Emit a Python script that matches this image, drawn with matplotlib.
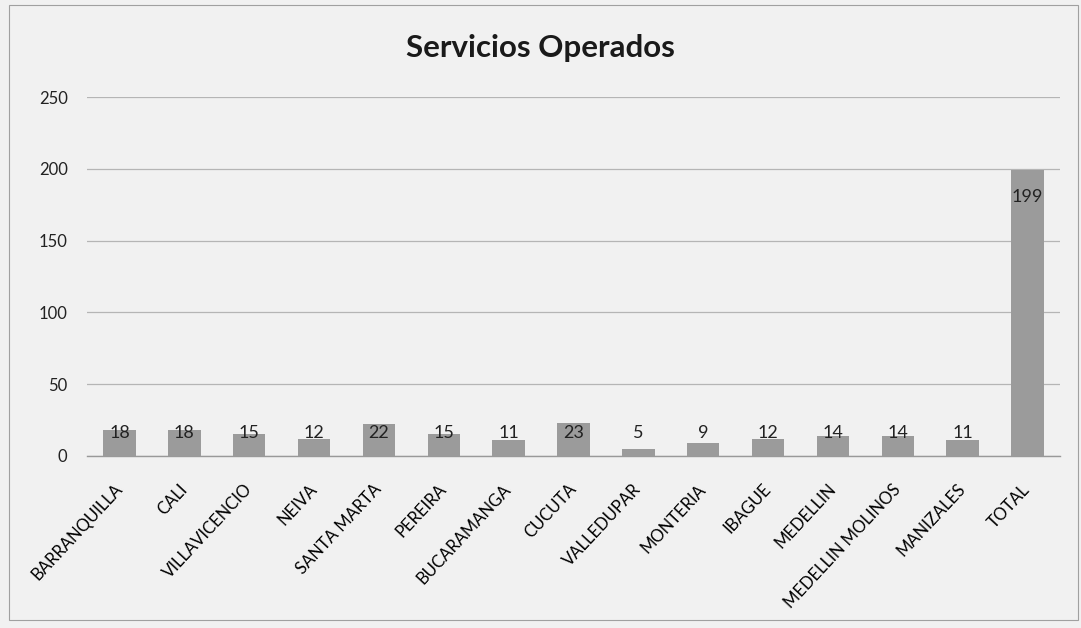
import matplotlib.pyplot as plt
from matplotlib.patches import Rectangle

# ---------- data ----------
ciudades = ["BARRANQUILLA", "CALI", "VILLAVICENCIO", "NEIVA", "SANTA MARTA",
            "PEREIRA", "BUCARAMANGA", "CUCUTA", "VALLEDUPAR", "MONTERIA",
            "IBAGUE", "MEDELLIN", "MEDELLIN MOLINOS", "MANIZALES", "TOTAL"]
servicios = [18, 18, 15, 12, 22, 15, 11, 23, 5, 9, 12, 14, 14, 11, 199]
y_ticks = [0, 50, 100, 150, 200, 250]

plt.rcParams['font.family'] = ['Lato', 'DejaVu Sans']

fig = plt.figure(figsize=(10.81, 6.28), dpi=100)
fig.patch.set_facecolor("#f1f1f1")
fig.add_artist(Rectangle((0.008, 0.012), 0.989, 0.98, transform=fig.transFigure,
                         fill=False, edgecolor="#a0a0a0", linewidth=0.8))

ax = fig.add_axes([0.0805, 0.2739, 0.9, 0.5716])
ax.set_facecolor("none")

x = range(len(ciudades))
ax.bar(x, servicios, width=0.5, color="#9b9b9b", zorder=3)

for xi, v in zip(x, servicios):
    off = -27 if v > 100 else -10
    ax.annotate(str(v), (xi, max(v, 23)), xytext=(0, off), textcoords="offset pixels",
                ha="center", va="center", fontsize=13, color="#222222", zorder=4)

ax.set_xlim(-0.5, len(ciudades) - 0.5)
ax.set_ylim(0, 250)
ax.set_yticks(y_ticks)
ax.yaxis.grid(True, color="#b5b5b5", linewidth=0.9, zorder=0)
ax.set_axisbelow(True)

ax.set_xticks(list(x))
ax.set_xticklabels(ciudades, rotation=47, ha="right", va="center",
                   rotation_mode="anchor", fontsize=12)
ax.tick_params(axis="x", length=0, pad=22)
ax.tick_params(axis="y", length=0, pad=14, labelsize=12, labelcolor="#222222")

for s in ["top", "right", "left"]:
    ax.spines[s].set_visible(False)
ax.spines["bottom"].set_color("#999999")
ax.spines["bottom"].set_linewidth(1.0)

fig.text(0.5, 0.924, "Servicios Operados", ha="center", va="center",
         fontsize=22.5, fontweight="bold", color="#1a1a1a")

fig.savefig("out.png", dpi=100, facecolor=fig.get_facecolor())
